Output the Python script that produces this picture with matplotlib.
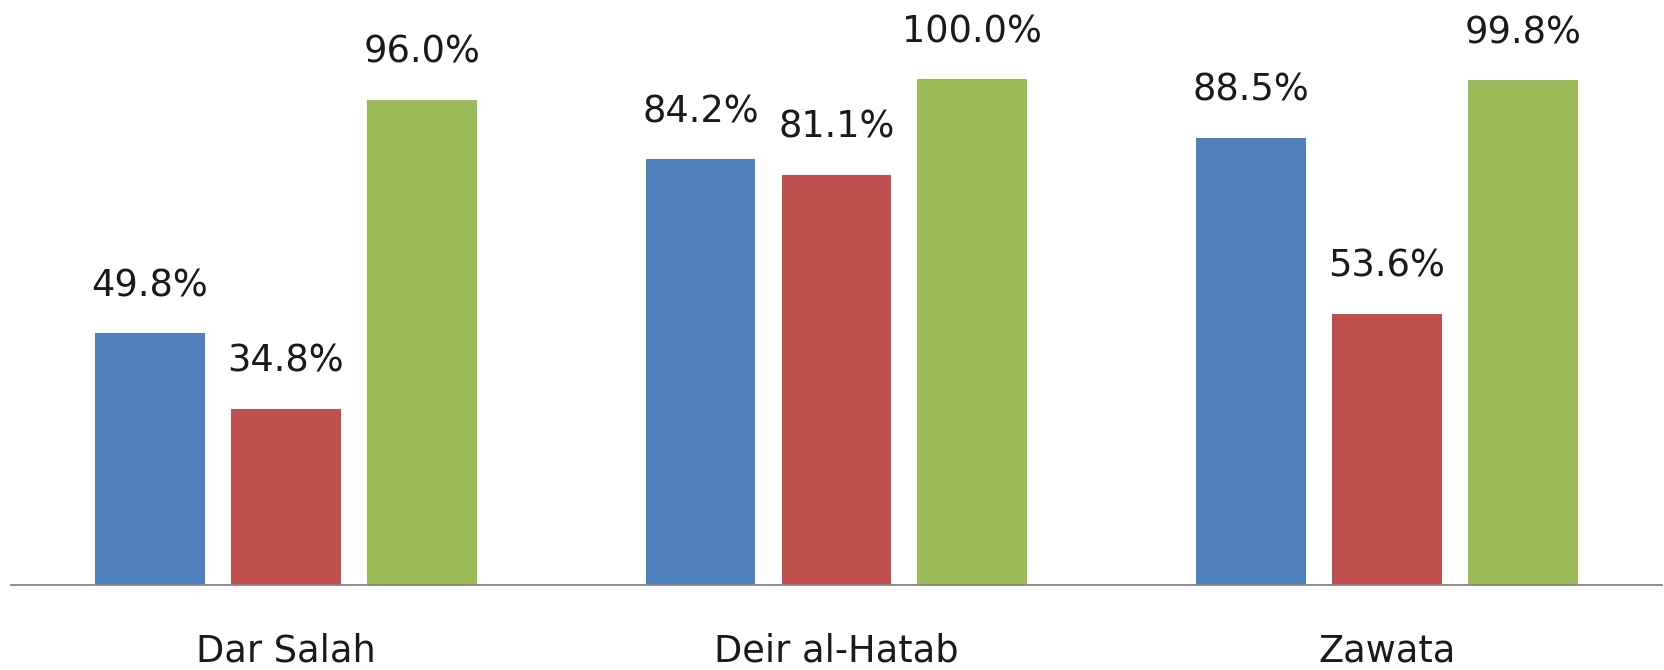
import matplotlib.pyplot as plt
import numpy as np

# data
villages = ["Dar Salah", "Deir al-Hatab", "Zawata"]
serie1 = [49.8, 84.2, 88.5]
serie2 = [34.8, 81.1, 53.6]
serie3 = [96.0, 100.0, 99.8]

farger = ["#4F81BD", "#C0504D", "#9BBB59"]

fig = plt.figure(figsize=(16.65, 6.70), dpi=100)
ax = fig.add_axes([10.6 / 1665, 1 - 585 / 670, (1662 - 10.6) / 1665, 585 / 670])

x = np.arange(len(villages))
bredde = 0.199
steg = 0.247

for i, (verdier, farge) in enumerate(zip([serie1, serie2, serie3], farger)):
    pos = x + (i - 1) * steg
    stolper = ax.bar(pos, verdier, bredde, color=farge)
    for s, v in zip(stolper, verdier):
        ax.annotate(f"{v:.1f}%", (s.get_x() + s.get_width() / 2, v),
                    xytext=(0, 21), textcoords="offset points",
                    ha="center", va="bottom", fontsize=26.5, color="#1a1a1a")

ax.set_xlim(-0.5, 2.5)
ax.set_ylim(0, 115.7)
ax.set_xticks(x)
ax.set_xticklabels(villages, fontsize=26.5, color="#1a1a1a")
ax.tick_params(axis="x", length=0, pad=34)
ax.set_yticks([])
for side in ["top", "right", "left"]:
    ax.spines[side].set_visible(False)
ax.spines["bottom"].set_color("#868686")
ax.spines["bottom"].set_linewidth(1.3)

fig.savefig("out.png", dpi=100)
